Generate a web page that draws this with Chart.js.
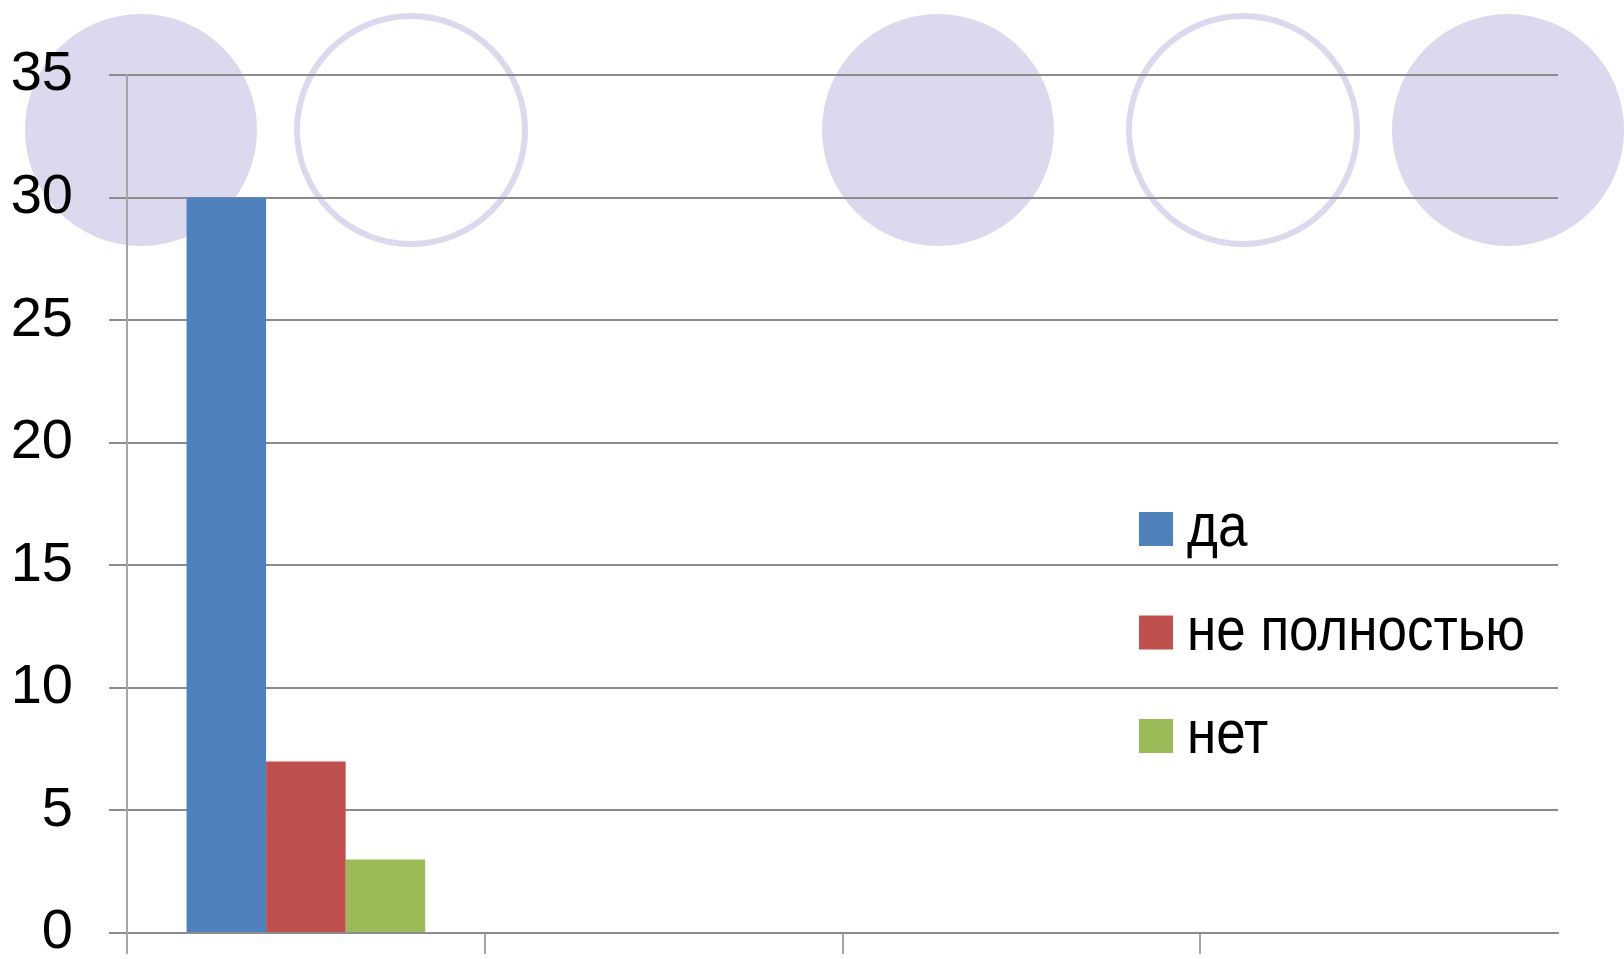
<!DOCTYPE html>
<html>
<head>
<meta charset="utf-8">
<script src="https://cdn.jsdelivr.net/npm/chart.js@4.4.0/dist/chart.umd.min.js"></script>
<style>
body { margin: 0; background: #fff; }
</style>
</head>
<body>
<canvas id="myChart" width="1624" height="959"></canvas>
<script>
// chart data
let categories = ['', '', '', ''];
let daValues = [30, null, null, null];
let partlyValues = [7, null, null, null];
let netValues = [3, null, null, null];
let seriesNames = ['да', 'не полностью', 'нет'];
let seriesColors = ['#4f81bd', '#c0504d', '#9bbb59'];
let yMax = 35;
let yStep = 5;

const fontFamily = "'Liberation Sans', 'DejaVu Sans', sans-serif";

// slide decoration: lavender circles along the top
const decor = [
    { x: 141, y: 130, r: 116, filled: true },
    { x: 411, y: 130, r: 114, filled: false },
    { x: 938, y: 130, r: 116, filled: true },
    { x: 1243, y: 130, r: 114, filled: false },
    { x: 1508, y: 130, r: 116, filled: true }
];

const backdrop = {
    id: 'backdrop',
    beforeDraw(chart) {
        const ctx = chart.ctx;
        ctx.save();
        ctx.fillStyle = '#ffffff';
        ctx.fillRect(0, 0, chart.width, chart.height);
        decor.forEach(c => {
            ctx.beginPath();
            ctx.arc(c.x, c.y, c.r, 0, Math.PI * 2);
            if (c.filled) {
                ctx.fillStyle = '#dad9ed';
                ctx.fill();
            } else {
                ctx.lineWidth = 6;
                ctx.strokeStyle = '#dad9ed';
                ctx.stroke();
            }
        });
        ctx.restore();
    }
};

// legend drawn inside the plot, on the right (text squeezed like the slide)
const innerLegend = {
    id: 'innerLegend',
    afterDraw(chart) {
        const ctx = chart.ctx;
        const left = 1139;
        const box = 34;
        const rowGap = 103.5;
        const firstCenter = 529;
        ctx.save();
        ctx.font = '62px ' + fontFamily;
        ctx.textBaseline = 'alphabetic';
        const widest = Math.max(...chart.data.datasets.map(ds => ctx.measureText(ds.label).width));
        const sx = Math.min(1, 338 / widest);
        chart.data.datasets.forEach((ds, i) => {
            const cy = firstCenter + i * rowGap;
            ctx.fillStyle = ds.backgroundColor;
            ctx.fillRect(left, cy - box / 2, box, box);
            ctx.save();
            ctx.translate(left + 48, cy + box / 2);
            ctx.scale(sx, 1);
            ctx.fillStyle = '#000';
            ctx.fillText(ds.label, 0, 0);
            ctx.restore();
        });
        ctx.restore();
    }
};

let ctx = document.getElementById('myChart').getContext('2d');

new Chart(ctx, {
    type: 'bar',
    data: {
        labels: categories,
        datasets: [
            { label: seriesNames[0], data: daValues, backgroundColor: seriesColors[0] },
            { label: seriesNames[1], data: partlyValues, backgroundColor: seriesColors[1] },
            { label: seriesNames[2], data: netValues, backgroundColor: seriesColors[2] }
        ]
    },
    options: {
        responsive: false,
        animation: false,
        categoryPercentage: 0.667,
        barPercentage: 1,
        layout: { padding: { top: 75, right: 66, bottom: 0, left: 0 } },
        plugins: {
            legend: { display: false },
            tooltip: { enabled: false }
        },
        scales: {
            x: {
                offset: true,
                grid: {
                    offset: true,
                    drawOnChartArea: false,
                    drawTicks: true,
                    tickLength: 21,
                    // no tick mark at the far right end
                    color: c => c.type === 'tick' ? '#a6a6a6' : 'rgba(0,0,0,0)',
                    lineWidth: 2
                },
                border: { display: true, color: '#8c8c8c', width: 2 },
                ticks: { display: true, font: { size: 10 } },
                afterFit: scale => { scale.height = 26; }
            },
            y: {
                min: 0,
                max: yMax,
                ticks: {
                    stepSize: yStep,
                    padding: 36,
                    color: '#000',
                    font: { family: fontFamily, size: 56 }
                },
                grid: {
                    color: '#8c8c8c',
                    lineWidth: 2,
                    drawTicks: true,
                    tickLength: 18
                },
                border: { display: true, color: '#a6a6a6', width: 2 },
                afterFit: scale => {
                    scale.width = 127;
                    scale.paddingTop = 0;
                    scale.paddingBottom = 0;
                }
            }
        }
    },
    plugins: [backdrop, innerLegend]
});
</script>
</body>
</html>
